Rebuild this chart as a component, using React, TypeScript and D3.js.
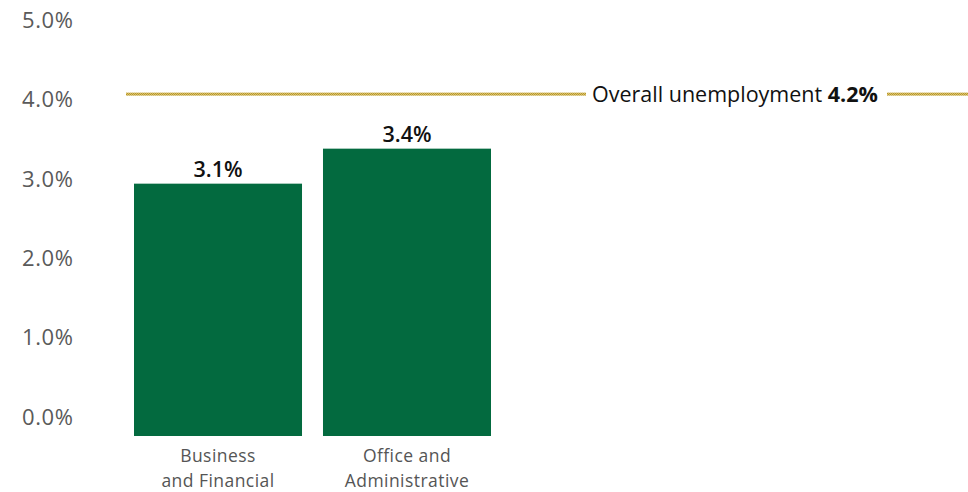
import React from "react";
import * as d3 from "d3";

const categories = [["Business", "and Financial"], ["Office and", "Administrative"]];
const barValues = [3.1, 3.53];
const barLabels = ["3.1%", "3.4%"];
const tickValues = [0, 1, 2, 3, 4, 5];
const overallValue = 4.2;
const overallLabel = "Overall unemployment";
const overallValueLabel = "4.2%";

const W = 968;
const H = 492;
const FONT = "'Open Sans', sans-serif";

export default function App() {
  const keys = categories.map((c) => c.join(" "));
  const x = d3.scaleBand<string>().domain(keys).range([134, 491]).paddingInner(0.111).paddingOuter(0);
  const y = d3.scaleLinear().domain([0, 5]).range([436, 29]);
  const yTick = d3.scaleLinear().domain([0, 5]).range([417, 20]);
  const lineY = y(overallValue);

  return (
    <svg width={W} height={H} style={{ position: "absolute", left: 0, top: 0, background: "#fff" }}>
      <defs>
        <pattern id="dots" width="2" height="2" patternUnits="userSpaceOnUse">
          <rect width="2" height="2" fill="#d9c36e" />
          <rect width="1" height="1" fill="#b8962a" />
          <rect x="1" y="1" width="1" height="1" fill="#b8962a" />
        </pattern>
      </defs>
      {tickValues.map((t) => (
        <text key={t} x={22} y={yTick(t)} dy="0.35em" fontFamily={FONT} fontSize={22} letterSpacing={0.6} fill="#5a5a5a">
          {d3.format(".1f")(t) + "%"}
        </text>
      ))}
      {keys.map((k, i) => {
        const cx = (x(k) as number) + x.bandwidth() / 2;
        return (
          <g key={k}>
            <rect x={x(k)} y={y(barValues[i])} width={x.bandwidth()} height={y(0) - y(barValues[i])} fill="#036a3f" />
            <text x={cx} y={y(barValues[i]) - 7} textAnchor="middle"
              fontFamily={FONT} fontSize={21.5} fontWeight={600} fill="#111">{barLabels[i]}</text>
            {categories[i].map((ln, j) => (
              <text key={j} x={cx} y={456 + j * 24.5} dy="0.35em" textAnchor="middle"
                fontFamily={FONT} fontSize={17.5} letterSpacing={0.45} fill="#555">{ln}</text>
            ))}
          </g>
        );
      })}
      <rect x={126} y={lineY - 1.5} width={586 - 126} height={3} fill="url(#dots)" />
      <rect x={887} y={lineY - 1.5} width={W - 887} height={3} fill="url(#dots)" />
      <text x={592} y={lineY} dy="0.35em" fontFamily={FONT} fontSize={21.5} fill="#111">
        {overallLabel + " "}
        <tspan fontWeight={700}>{overallValueLabel}</tspan>
      </text>
    </svg>
  );
}
